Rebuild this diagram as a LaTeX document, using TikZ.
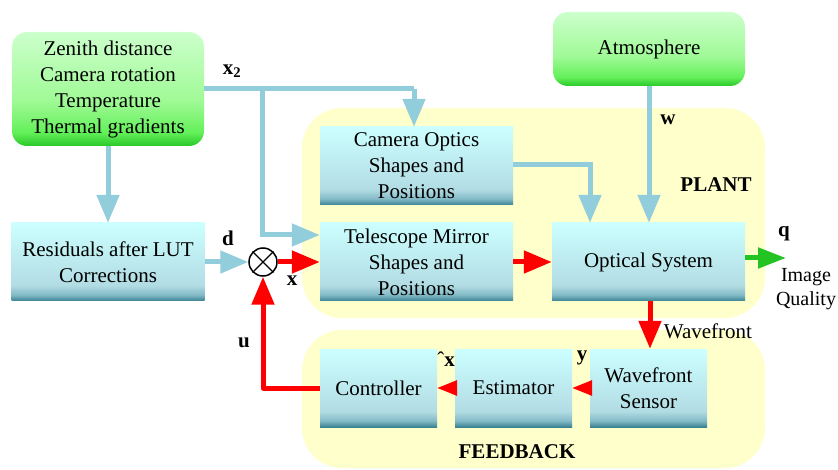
\documentclass[tikz,border=0pt]{standalone}
\usepackage{fontspec}
\setmainfont{Liberation Serif}
\usetikzlibrary{arrows.meta,shapes.geometric}

\definecolor{flowblue}{HTML}{92CDDC}
\definecolor{flowred}{HTML}{FF0000}
\definecolor{flowgreen}{HTML}{22C322}
\definecolor{zoneyellow}{HTML}{FFFFCC}

% blue-cyan block fill: light top, dark teal strip at the bottom
\pgfdeclareverticalshading{blockshade}{100bp}{%
  color(0bp)=(rgb,255:red,58;green,130;blue,146);
  color(25bp)=(rgb,255:red,58;green,130;blue,146);
  color(29bp)=(rgb,255:red,130;green,186;blue,198);
  color(35bp)=(rgb,255:red,178;green,220;blue,228);
  color(75bp)=(rgb,255:red,204;green,255;blue,255);
  color(100bp)=(rgb,255:red,204;green,255;blue,255)}
% green input block fill
\pgfdeclareverticalshading{inputshade}{100bp}{%
  color(0bp)=(rgb,255:red,40;green,200;blue,40);
  color(25bp)=(rgb,255:red,40;green,200;blue,40);
  color(31bp)=(rgb,255:red,100;green,240;blue,90);
  color(45bp)=(rgb,255:red,160;green,250;blue,150);
  color(75bp)=(rgb,255:red,204;green,255;blue,204);
  color(100bp)=(rgb,255:red,204;green,255;blue,204)}

\tikzset{
  lbl/.style={font=\fontsize{21}{26}\selectfont},
  blk/.style={shading=blockshade, align=center, inner sep=0pt, lbl},
  inblk/.style={shading=inputshade, rounded corners=15pt, align=center, inner sep=0pt, lbl},
  zone/.style={fill=zoneyellow, rounded corners=40pt},
  sig/.style={font=\fontsize{21}{24}\selectfont\bfseries, inner sep=0pt},
  bluearrow/.style={draw=flowblue, line width=5pt, -{Triangle[length=28pt,width=22pt]}},
  bluepath/.style={draw=flowblue, line width=5pt},
  redarrow/.style={draw=flowred, line width=5pt, -{Triangle[length=28pt,width=22pt]}},
  smallred/.style={draw=flowred, line width=3pt, -{Triangle[length=20pt,width=15pt]}},
  redpath/.style={draw=flowred, line width=5pt, line join=round},
  greenarrow/.style={draw=flowgreen, line width=5pt, -{Triangle[length=28pt,width=20pt]}},
}

\begin{document}
\begin{tikzpicture}[x=1pt,y=-1pt]
\useasboundingbox (0,0) rectangle (838,470);

% plant and feedback zones
\path[zone] (302,108) rectangle (765,318);
\path[zone] (302,330) rectangle (765,468);

% input blocks
\node[inblk, minimum width=192pt, minimum height=114pt] (env) at (108,89)
  {Zenith distance\\Camera rotation\\Temperature\\Thermal gradients};
\node[inblk, minimum width=192pt, minimum height=74pt] (atm) at (649,49) {Atmosphere};

% process blocks
\node[blk, minimum width=193pt, minimum height=78pt] (res) at (108,262) {Residuals after LUT\\Corrections};
\node[blk, minimum width=193pt, minimum height=78pt] (cam) at (416.5,166) {Camera Optics\\Shapes and\\Positions};
\node[blk, minimum width=193pt, minimum height=78pt] (tel) at (416.5,262) {Telescope Mirror\\Shapes and\\Positions};
\node[blk, minimum width=193pt, minimum height=78pt] (opt) at (648.5,262) {Optical System};
\node[blk, minimum width=117pt, minimum height=78pt] (ctl) at (378.5,388) {Controller};
\node[blk, minimum width=117pt, minimum height=78pt] (est) at (513.5,388) {Estimator};
\node[blk, minimum width=117pt, minimum height=78pt] (wfs) at (648.5,388) {Wavefront\\Sensor};

% summing junction
\node[circle, draw, line width=1.5pt, minimum size=28pt, inner sep=0pt, fill=white] (sum) at (263,262) {};
\draw[line width=1.3pt] (sum.north east) -- (sum.south west) (sum.north west) -- (sum.south east);

% coordinates for corners of the connectors
\coordinate (xtwo) at (262,89);
\coordinate (xtop) at (414,89);
\coordinate (xleft) at (262,235);
\coordinate (camturn) at (590,165);
\coordinate (ubend) at (263,388);
\coordinate (qend) at (786,258);

% blue input connectors
\draw[bluepath] (env.east |- xtwo) -- (xtop);
\draw[bluearrow] (xtop) -- (xtop |- cam.north);
\draw[bluearrow] (xtwo) -- (xleft) -- (tel.west |- xleft);
\draw[bluearrow] (env.south) -- (res.north);
\draw[bluearrow] (res.east) -- (sum.west);
\draw[bluearrow] (cam.east |- camturn) -- (camturn) -- (camturn |- opt.north);
\draw[bluearrow] (atm.south) -- (opt.north -| atm.south);

% red signal path
\draw[redarrow] (sum.east) -- (tel.west);
\draw[redarrow] (tel.east) -- (opt.west);
\draw[redarrow] (opt.south -| 650,0) -- (wfs.north -| 650,0);
\draw[smallred] (wfs.west) -- (est.east);
\draw[smallred] (est.west) -- (ctl.east);
\draw[redpath, -{Triangle[length=28pt,width=22pt]}] (ctl.west) -- (ubend) -- (sum.south);

% output
\draw[greenarrow] (opt.east |- qend) -- (qend);

% signal labels
\node[sig] (lx2) at (232,71) {x\textsubscript{2}};
\node[sig] (lw) at (668,120) {w};
\node[sig] (lplant) at (716,185) {PLANT};
\node[sig] (ld) at (228,238) {d};
\node[sig] (lx) at (292,281) {x};
\node[sig] (lq) at (784,234) {q};
\node[align=center, inner sep=0pt, font=\fontsize{20}{24}\selectfont] (liq) at (806,289) {Image\\Quality};
\node[lbl, inner sep=0pt] (lwf) at (708,331) {Wavefront};
\node[sig] (lu) at (244,343) {u};
\node[sig] (lxh) at (446,359) {\normalfont ˆ\bfseries x};
\node[sig] (ly) at (582,358) {y};
\node[sig] (lfb) at (517,452) {FEEDBACK};
\end{tikzpicture}
\end{document}
